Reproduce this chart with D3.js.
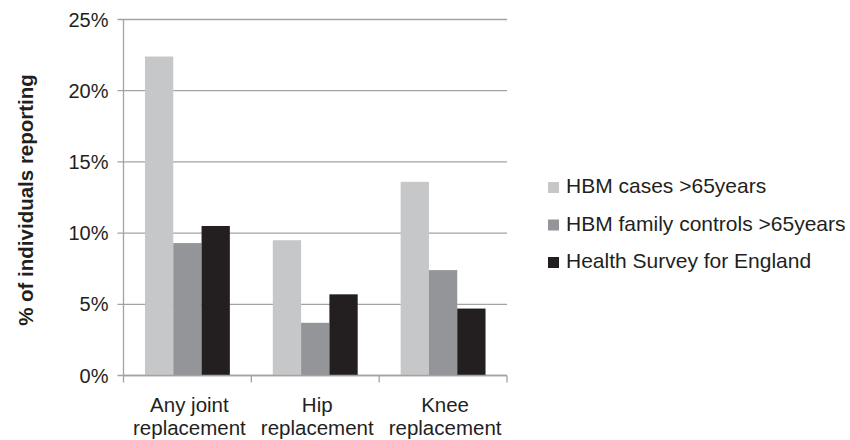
<!DOCTYPE html>
<html>
<head>
<meta charset="utf-8">
<script src="https://cdn.jsdelivr.net/npm/d3@7/dist/d3.min.js"></script>
<style>
  html, body { margin: 0; padding: 0; background: #fff; }
  text { font-family: "Liberation Sans", Arial, Helvetica, sans-serif; fill: #231f20; }
</style>
</head>
<body>
<svg id="chart" width="850" height="440"></svg>
<script>
const categories = [["Any joint", "replacement"], ["Hip", "replacement"], ["Knee", "replacement"]];
const seriesNames = ["HBM cases >65years", "HBM family controls >65years", "Health Survey for England"];
const seriesColors = ["#c6c7c9", "#939598", "#231f20"];
const casesValues = [22.4, 9.5, 13.6];
const controlsValues = [9.3, 3.7, 7.4];
const hseValues = [10.5, 5.7, 4.7];
const yTicks = [0, 5, 10, 15, 20, 25];

const seriesValues = [casesValues, controlsValues, hseValues];

const svg = d3.select("#chart");
const plotLeft = 123.5, plotRight = 507, plotTop = 19.5, plotBottom = 375.5;

const x0 = d3.scaleBand().domain(d3.range(categories.length)).range([plotLeft, plotRight]).padding(0);
const x1 = d3.scaleBand().domain(d3.range(seriesNames.length))
  .range([x0.bandwidth() * 0.168, x0.bandwidth() * 0.832]).padding(0);
const y = d3.scaleLinear().domain([0, 25]).range([plotBottom, plotTop]);

const gridColor = "#a3a3a3";

// gridlines
svg.append("g").selectAll("line").data(yTicks).join("line")
  .attr("x1", plotLeft - 6).attr("x2", plotRight)
  .attr("y1", d => y(d)).attr("y2", d => y(d))
  .attr("stroke", gridColor).attr("stroke-width", 1.3);

// y tick labels
svg.append("g").selectAll("text").data(yTicks).join("text")
  .attr("x", plotLeft - 15).attr("y", d => y(d) + 7)
  .attr("text-anchor", "end")
  .style("font-size", "20px")
  .text(d => d + "%");

// bars
const groups = svg.append("g").selectAll("g").data(categories).join("g")
  .attr("transform", (d, i) => `translate(${x0(i)},0)`);
groups.selectAll("rect").data((d, i) => seriesValues.map((vals, s) => ({ s, v: vals[i] })))
  .join("rect")
  .attr("x", d => x1(d.s)).attr("width", x1.bandwidth())
  .attr("y", d => y(d.v)).attr("height", d => y(0) - y(d.v))
  .attr("fill", d => seriesColors[d.s]);

// y axis line
svg.append("line").attr("x1", plotLeft).attr("x2", plotLeft).attr("y1", plotTop).attr("y2", plotBottom)
  .attr("stroke", gridColor).attr("stroke-width", 1.3);
// baseline
svg.append("line").attr("x1", plotLeft).attr("x2", plotRight).attr("y1", plotBottom).attr("y2", plotBottom)
  .attr("stroke", gridColor).attr("stroke-width", 1.3);

// category boundary ticks
const bounds = d3.range(categories.length + 1).map(i => i < categories.length ? x0(i) : x0(categories.length - 1) + x0.bandwidth());
svg.append("g").selectAll("line").data(bounds).join("line")
  .attr("x1", d => d).attr("x2", d => d)
  .attr("y1", plotBottom).attr("y2", plotBottom + 7)
  .attr("stroke", gridColor).attr("stroke-width", 1.3);

// category labels
const catText = svg.append("g").selectAll("text").data(categories).join("text")
  .attr("text-anchor", "middle")
  .style("font-size", "20.5px");
catText.each(function (d, i) {
  const t = d3.select(this);
  const cx = x0(i) + x0.bandwidth() / 2 + 2;
  d.forEach((line, j) => {
    t.append("tspan").attr("x", cx).attr("y", 412 + j * 23).text(line);
  });
});

// y axis title
svg.append("text")
  .attr("transform", "translate(33,200) rotate(-90)")
  .attr("text-anchor", "middle")
  .style("font-size", "20.5px").style("font-weight", "bold")
  .text("% of individuals reporting");

// legend
const legend = svg.append("g").selectAll("g").data(seriesNames).join("g")
  .attr("transform", (d, i) => `translate(548,${193 + i * 37.5})`);
legend.append("rect").attr("x", 0).attr("y", -11).attr("width", 11).attr("height", 11)
  .attr("fill", (d, i) => seriesColors[i]);
legend.append("text").attr("x", 18).attr("y", 0)
  .style("font-size", "21px").text(d => d);
</script>
</body>
</html>
